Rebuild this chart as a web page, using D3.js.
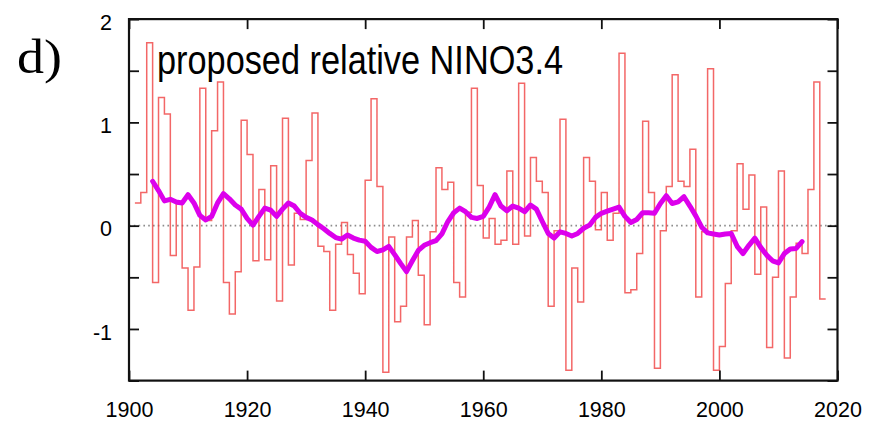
<!DOCTYPE html>
<html>
<head>
<meta charset="utf-8">
<script src="https://cdn.jsdelivr.net/npm/d3@7"></script>
<style>
  html, body { margin: 0; padding: 0; background: #fff; }
  svg { display: block; }
</style>
</head>
<body>
<svg id="chart" width="881" height="423"></svg>
<script>
// ---- data ----
const firstYear = 1901;
const stepValues = [
  0.22, 0.32, 1.77, -0.55, 1.24, 1.08, -0.29, 0.21, -0.41, -0.82,   // 1901-1910
  -0.40, 1.33, 0.05, 0.92, 1.39, -0.55, -0.855, -0.445, 1.02, 0.69, // 1911-1920
  -0.34, 0.35, -0.33, 0.58, -0.73, 1.04, -0.38, 0.12, 0.06, 0.63,   // 1921-1930
  1.09, -0.20, -0.25, -0.82, -0.18, 0.03, -0.28, -0.46, -0.66, 0.44, // 1931-1940
  1.23, 0.38, -1.42, -0.11, -0.93, -0.78, -0.11, 0.05, -0.48, -0.96, // 1941-1950
  -0.06, 0.56, 0.35, 0.42, -0.55, -0.69, 0.13, 1.33, 0.39, -0.12,   // 1951-1960
  0.07, -0.18, -0.14, 0.53, -0.18, 1.38, -0.10, 0.66, 0.43, 0.32,   // 1961-1970
  -0.78, -0.05, 1.03, -1.40, -0.41, -0.74, 0.66, 0.43, -0.04, 0.32, // 1971-1980
  -0.14, 0.12, 1.67, -0.65, -0.62, -0.27, 1.01, 0.32, -1.38, -0.05, // 1981-1990
  0.38, 1.46, 0.43, 0.38, 0.74, -0.69, -0.06, 1.52, -1.40, -1.17,   // 1991-2000
  -0.56, -0.05, 0.60, 0.16, 0.49, -0.47, 0.18, -1.18, -0.50, 0.53,  // 2001-2010
  -1.28, -0.69, -0.17, -0.27, 0.35, 1.39, -0.71                     // 2011-2017
];

const smoothStart = 1904;
const smoothValues = [
  0.43, 0.34, 0.24, 0.255, 0.23, 0.22,                               // 1904-1909
  0.30, 0.22, 0.10, 0.055, 0.09, 0.22, 0.31, 0.26, 0.20, 0.16,       // 1910-1919
  0.07, 0.005, 0.09, 0.17, 0.15, 0.09, 0.16, 0.22, 0.19, 0.12,       // 1920-1929
  0.08, 0.055, 0.01, -0.03, -0.075, -0.115, -0.13, -0.09, -0.12, -0.14, // 1930-1939
  -0.15, -0.21, -0.25, -0.235, -0.20, -0.28, -0.365, -0.445, -0.34, -0.24, // 1940-1949
  -0.19, -0.165, -0.145, -0.08, 0.04, 0.125, 0.17, 0.135, 0.08, 0.07, // 1950-1959
  0.09, 0.18, 0.30, 0.19, 0.145, 0.19, 0.17, 0.135, 0.20, 0.16,      // 1960-1969
  0.04, -0.075, -0.12, -0.06, -0.075, -0.10, -0.075, -0.025, 0.005, 0.08, // 1970-1979
  0.12, 0.14, 0.16, 0.18, 0.09, 0.03, 0.06, 0.125, 0.125, 0.12,      // 1980-1989
  0.215, 0.29, 0.215, 0.23, 0.28, 0.19, 0.095, -0.015, -0.07, -0.08, // 1990-1999
  -0.09, -0.08, -0.075, -0.20, -0.27, -0.19, -0.12, -0.21, -0.285, -0.34, // 2000-2009
  -0.36, -0.27, -0.225, -0.22, -0.155                                 // 2010-2014
];

const xTicks = [1900, 1920, 1940, 1960, 1980, 2000, 2020];
const yTicks = [2, 1.5, 1, 0.5, 0, -0.5, -1, -1.5];
const yLabels = [2, 1, 0, -1];
const titleText = "proposed relative NINO3.4";
const panelLabel = "d)";

// ---- layout ----
const svg = d3.select("#chart");
const pLeft = 129, pRight = 837.5, pTop = 19.1, pBottom = 380.6;

const x = d3.scaleLinear().domain([1900, 2020]).range([pLeft, pRight]);
const y = d3.scaleLinear().domain([-1.5, 2]).range([pBottom, pTop]);

// zero line
svg.append("line")
  .attr("x1", pLeft).attr("x2", pRight)
  .attr("y1", y(0)).attr("y2", y(0))
  .attr("stroke", "#8c8c8c")
  .attr("stroke-width", 1.6)
  .attr("stroke-dasharray", "1.6,3.2");

// step series
const stepPts = stepValues.map((v, i) => [firstYear + i, v]);
stepPts.push([firstYear + stepValues.length, stepValues[stepValues.length - 1]]);
const stepLine = d3.line().x(d => x(d[0])).y(d => y(d[1])).curve(d3.curveStepAfter);
svg.append("path")
  .attr("d", stepLine(stepPts))
  .attr("fill", "none")
  .attr("stroke", "#f03c3c")
  .attr("stroke-opacity", 0.78)
  .attr("stroke-width", 1.5);

// smoothed series
const smoothPts = smoothValues.map((v, i) => [smoothStart + i, v]);
const smoothLine = d3.line().x(d => x(d[0])).y(d => y(d[1]));
svg.append("path")
  .attr("d", smoothLine(smoothPts))
  .attr("fill", "none")
  .attr("stroke", "#dc00ec")
  .attr("stroke-width", 5)
  .attr("stroke-linejoin", "round")
  .attr("stroke-linecap", "round");

// axes (ticks inward, mirrored)
const fontFam = "'Liberation Sans', Arial, Helvetica, sans-serif";
const gB = svg.append("g").attr("transform", `translate(0,${pBottom})`)
  .call(d3.axisBottom(x).tickValues(xTicks).tickSizeInner(-10).tickSizeOuter(0).tickPadding(21).tickFormat(d3.format("d")));
const gT = svg.append("g").attr("transform", `translate(0,${pTop})`)
  .call(d3.axisTop(x).tickValues(xTicks).tickSizeInner(-10).tickSizeOuter(0).tickFormat(""));
const gL = svg.append("g").attr("transform", `translate(${pLeft},0)`)
  .call(d3.axisLeft(y).tickValues(yTicks).tickSizeInner(-10).tickSizeOuter(0).tickPadding(17)
    .tickFormat(d => yLabels.includes(d) ? String(d) : ""));
const gR = svg.append("g").attr("transform", `translate(${pRight},0)`)
  .call(d3.axisRight(y).tickValues(yTicks).tickSizeInner(-10).tickSizeOuter(0).tickFormat(""));

[gB, gT, gL, gR].forEach(g => {
  g.select(".domain").remove();
  g.selectAll(".tick line").attr("stroke", "#111").attr("stroke-width", 1.8);
  g.selectAll("text").attr("font-family", fontFam).attr("font-size", 21.5).attr("fill", "#000");
});
gL.selectAll("text").attr("dy", "0.47em");

// frame
svg.append("rect")
  .attr("x", pLeft).attr("y", pTop)
  .attr("width", pRight - pLeft).attr("height", pBottom - pTop)
  .attr("fill", "none").attr("stroke", "#111").attr("stroke-width", 2.2);

// title inside plot
svg.append("text")
  .attr("x", 157).attr("y", 74)
  .attr("font-family", fontFam)
  .attr("font-size", 40)
  .attr("textLength", 406)
  .attr("lengthAdjust", "spacingAndGlyphs")
  .attr("fill", "#000")
  .text(titleText);

// panel label
svg.append("text")
  .attr("x", 17).attr("y", 73)
  .attr("font-family", "'Liberation Serif', 'Times New Roman', serif")
  .attr("font-size", 48)
  .attr("textLength", 45)
  .attr("lengthAdjust", "spacingAndGlyphs")
  .attr("fill", "#000")
  .text(panelLabel);
</script>
</body>
</html>
